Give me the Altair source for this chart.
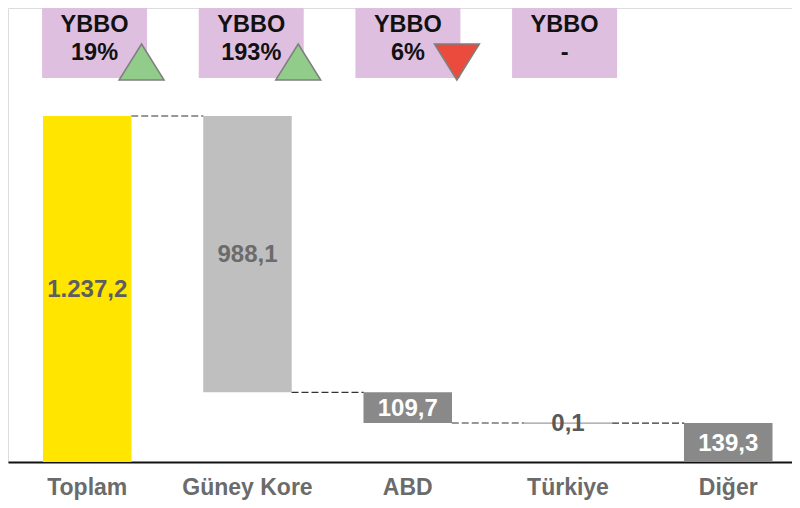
import altair as alt
import pandas as pd

# ---- data ----
categories = ["Toplam", "Güney Kore", "ABD", "Türkiye", "Diğer"]
values = [1237.2, 988.1, 109.7, 0.1, 139.3]
kinds = ["total", "down", "down", "down", "total"]

ybbo_categories = ["Toplam", "Güney Kore", "ABD", "Türkiye"]
ybbo_title = ["YBBO", "YBBO", "YBBO", "YBBO"]
ybbo_values = ["19%", "193%", "6%", "-"]
ybbo_trend = ["up", "up", "down", "none"]

# ---- styles ----
bar_colors = ["#FFE500", "#BFBFBF", "#898989", "#A6A6A6", "#898989"]
label_colors = ["#5E5E5E", "#6B6B6B", "#FFFFFF", "#595959", "#FFFFFF"]
FONT = "Liberation Sans"


def tr_num(v):
    s = f"{v:,.1f}"
    return s.replace(",", "X").replace(".", ",").replace("X", ".")


rows = []
level = 0.0
levels = []
for c, v, k in zip(categories, values, kinds):
    if k == "total":
        lo, hi = 0.0, v
        lvl = hi
    else:
        hi = level
        lo = level - v
        lvl = lo
    level = lvl
    levels.append(lvl)
    rows.append(dict(cat=c, lo=lo, hi=hi, label=tr_num(v)))
bars_df = pd.DataFrame(rows)

conn_df = pd.DataFrame(
    dict(
        src=categories[:-1],
        dst=categories[1:],
        level=levels[:-1],
    )
)

box_df = pd.DataFrame(
    dict(cat=ybbo_categories, title=ybbo_title, val=ybbo_values, trend=ybbo_trend)
)

x_scale = alt.Scale(type="band", domain=categories, paddingInner=0.4477, paddingOuter=0.170, align=0.642)
box_scale = alt.Scale(type="band", domain=ybbo_categories, paddingInner=0.33, paddingOuter=0.667, align=0.163)
y_scale = alt.Scale(domain=[0, 1623.4], nice=False, zero=True)
x_axis = alt.Axis(
    title=None,
    labelAngle=0,
    labelFont=FONT,
    labelFontSize=23,
    labelFontWeight="bold",
    labelColor="#6B6B6B",
    labelBaseline="alphabetic",
    labelPadding=32,
    ticks=False,
    tickSize=0,
    grid=False,
    domainColor="#111111",
    domainWidth=2,
)

X = alt.X("cat:N", scale=x_scale, axis=x_axis, sort=categories)
XB = alt.X("cat:N", scale=box_scale, axis=None, sort=ybbo_categories)

connectors = (
    alt.Chart(conn_df)
    .mark_rule(color="#333333", strokeWidth=1.2, strokeDash=[7, 3], xOffset=44, x2Offset=-44)
    .encode(
        x=alt.X("src:N", scale=x_scale, axis=None, sort=categories),
        x2="dst:N",
        y=alt.Y("level:Q", scale=y_scale, axis=None),
    )
)

bars = (
    alt.Chart(bars_df)
    .mark_bar(strokeWidth=1.2)
    .encode(
        x=X,
        y=alt.Y("lo:Q", scale=y_scale, axis=None),
        y2="hi:Q",
        color=alt.Color("cat:N", scale=alt.Scale(domain=categories, range=bar_colors), legend=None),
        stroke=alt.condition("datum.hi - datum.lo < 1", alt.value("#9C9C9C"), alt.value("transparent")),
    )
)

bar_labels = (
    alt.Chart(bars_df)
    .transform_calculate(mid="(datum.lo + datum.hi) / 2")
    .mark_text(font=FONT, fontSize=24, fontWeight="bold", baseline="middle", dy=1)
    .encode(
        x=alt.X("cat:N", scale=x_scale, axis=None, sort=categories),
        y=alt.Y("mid:Q", scale=y_scale, axis=None),
        text="label:N",
        color=alt.Color("cat:N", scale=alt.Scale(domain=categories, range=label_colors), legend=None),
    )
)

boxes = (
    alt.Chart(box_df)
    .mark_rect(color="#DFBFDF")
    .encode(x=XB, y=alt.value(0), y2=alt.value(70))
)

box_title = (
    alt.Chart(box_df)
    .mark_text(font=FONT, fontSize=23.5, fontWeight="bold", color="#111111", baseline="middle")
    .encode(x=XB, y=alt.value(17), text="title:N")
)

box_val = (
    alt.Chart(box_df)
    .mark_text(font=FONT, fontSize=23.5, fontWeight="bold", color="#111111", baseline="middle")
    .encode(x=XB, y=alt.value(45), text="val:N")
)

up_tri = (
    alt.Chart(box_df)
    .transform_filter("datum.trend == 'up'")
    .mark_point(
        shape="M0,-0.8L1,0.8L-1,0.8Z",
        size=2025,
        filled=True,
        fill="#92CC8A",
        stroke="#7F7F7F",
        strokeWidth=1.5,
        opacity=1,
        xOffset=47,
    )
    .encode(x=XB, y=alt.value(54))
)

down_tri = (
    alt.Chart(box_df)
    .transform_filter("datum.trend == 'down'")
    .mark_point(
        shape="M-1,-0.8L1,-0.8L0,0.8Z",
        size=2025,
        filled=True,
        fill="#EA4B3D",
        stroke="#7F7F7F",
        strokeWidth=1.5,
        opacity=1,
        xOffset=49,
    )
    .encode(x=XB, y=alt.value(54))
)

chart = (
    alt.layer(connectors, bars, bar_labels, boxes, box_title, box_val, up_tri, down_tri)
    .resolve_scale(color="independent", x="independent")
    .properties(
        width=784,
        height=454,
        padding={"left": 0, "top": 0, "right": 0, "bottom": 38},
        autosize=alt.AutoSizeParams(type="none"),
    )
    .configure_view(strokeWidth=0)
    .configure(font=FONT)
)

chart.save("out.html", embed_options={"renderer": "svg", "actions": False})
